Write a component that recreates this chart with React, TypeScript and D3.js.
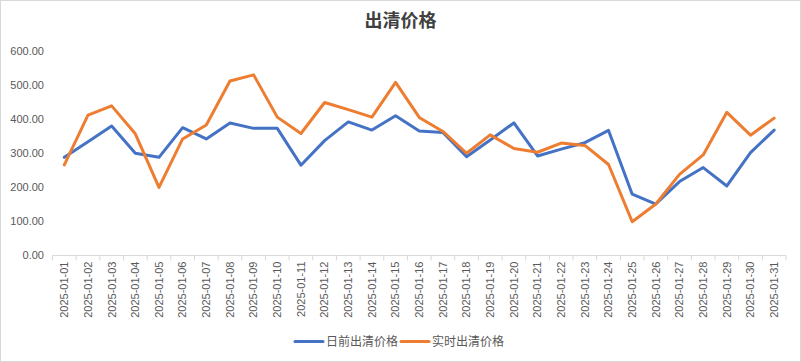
import React, { useEffect, useRef } from 'react';
import * as d3 from 'd3';

const dates = d3.range(1, 32).map(d => `2025-01-${String(d).padStart(2, '0')}`);

const dayAhead = [288, 334, 380, 300, 288, 375, 342, 389, 373, 373, 265, 337, 392, 368, 410, 365,
  361, 290, 339, 389, 292, 312, 331, 367, 180, 151, 217, 258, 204, 302, 368];

const realTime = [266, 412, 439, 357, 200, 342, 383, 512, 530, 406, 358, 449, 428, 406, 508, 405,
  364, 300, 354, 314, 303, 330, 323, 267, 99, 151, 238, 295, 420, 353, 403];

const yTicks = [0, 100, 200, 300, 400, 500, 600];

const seriesNames = ['日前出清价格', '实时出清价格'];
const colors = ['#4472C4', '#ED7D31'];

const W = 801;
const H = 362;
const margin = { left: 52.5, right: 15, top: 51, bottom: 106.5 };

const App = () => {
  const ref = useRef<SVGSVGElement>(null);

  useEffect(() => {
    const svg = d3.select(ref.current);
    svg.selectAll('*').remove();

    svg.append('rect')
      .attr('x', 0.5).attr('y', 0.5)
      .attr('width', W - 1).attr('height', H - 1)
      .attr('fill', '#fff').attr('stroke', '#d9d9d9');

    svg.append('text')
      .attr('x', W / 2).attr('y', 27)
      .attr('text-anchor', 'middle')
      .attr('font-family', '"Noto Sans CJK SC", sans-serif')
      .attr('font-size', 18).attr('font-weight', 'bold')
      .attr('fill', '#404040')
      .text('出清价格');

    const x = d3.scaleBand()
      .domain(dates)
      .range([margin.left, W - margin.right]);

    const y = d3.scaleLinear()
      .domain([0, 600])
      .range([H - margin.bottom, margin.top]);

    // y axis labels
    svg.append('g')
      .selectAll('text')
      .data(yTicks)
      .enter()
        .append('text')
          .attr('x', 44)
          .attr('y', d => y(d))
          .attr('dy', '0.35em')
          .attr('text-anchor', 'end')
          .attr('font-family', '"Liberation Sans", Arial, sans-serif')
          .attr('font-size', 11)
          .attr('fill', '#595959')
          .text(d => d3.format('.2f')(d));

    // x axis
    const base = y(0);
    const xAxis = svg.append('g');
    xAxis.append('line')
      .attr('x1', margin.left).attr('x2', W - margin.right)
      .attr('y1', base).attr('y2', base)
      .attr('stroke', '#d9d9d9');
    xAxis.selectAll('line.tick')
      .data(d3.range(dates.length + 1))
      .enter()
        .append('line')
          .attr('class', 'tick')
          .attr('x1', i => margin.left + i * x.step())
          .attr('x2', i => margin.left + i * x.step())
          .attr('y1', base).attr('y2', base + 5)
          .attr('stroke', '#d9d9d9');
    xAxis.selectAll('text')
      .data(dates)
      .enter()
        .append('text')
          .attr('transform', d => `translate(${x(d)! + x.bandwidth() / 2},${base + 6}) rotate(-90)`)
          .attr('dy', '0.35em')
          .attr('text-anchor', 'end')
          .attr('font-family', '"Liberation Sans", Arial, sans-serif')
          .attr('font-size', 11)
          .attr('fill', '#595959')
          .text(d => d);

    const line = d3.line<number>()
      .x((_, i) => x(dates[i])! + x.bandwidth() / 2)
      .y(d => y(d));

    [dayAhead, realTime].forEach((s, k) => {
      svg.append('path')
        .datum(s)
        .attr('d', line)
        .attr('fill', 'none')
        .attr('stroke', colors[k])
        .attr('stroke-width', 3)
        .attr('stroke-linejoin', 'round')
        .attr('stroke-linecap', 'round');
    });

    // legend
    const legend = svg.append('g');
    const lx = [295, 401];
    seriesNames.forEach((name, k) => {
      legend.append('line')
        .attr('x1', lx[k]).attr('x2', lx[k] + 28)
        .attr('y1', 341.5).attr('y2', 341.5)
        .attr('stroke', colors[k]).attr('stroke-width', 3)
        .attr('stroke-linecap', 'round');
      legend.append('text')
        .attr('x', lx[k] + 31).attr('y', 341.5)
        .attr('dy', '0.35em')
        .attr('font-family', '"Noto Sans CJK SC", sans-serif')
        .attr('font-size', 12)
        .attr('fill', '#595959')
        .text(name);
    });
  }, []);

  return (
    <svg ref={ref} width={W} height={H} style={{ position: 'absolute', left: 0, top: 0 }} />
  );
};

export default App;
